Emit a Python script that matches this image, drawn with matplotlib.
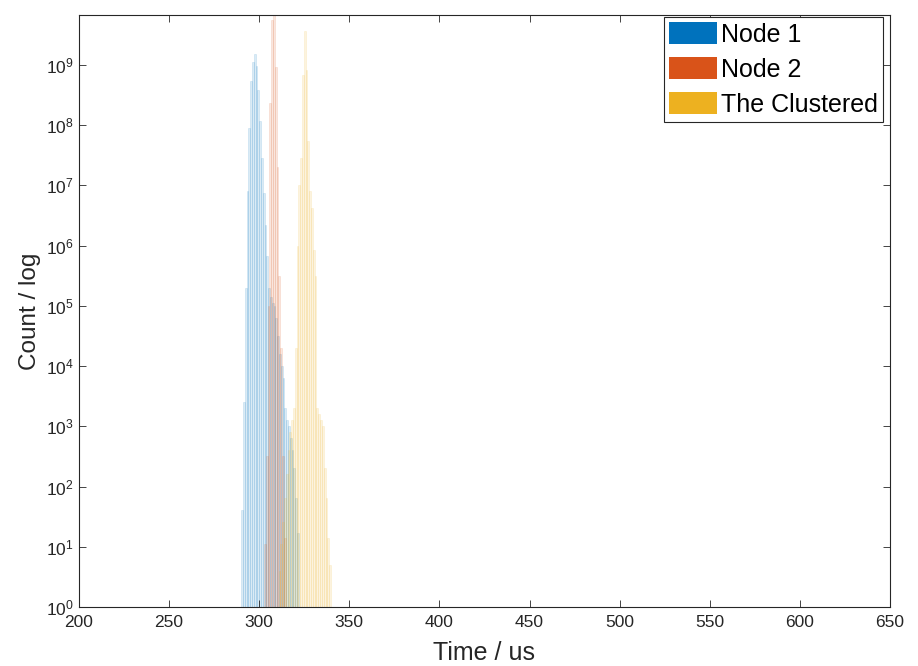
import numpy as np
import matplotlib.pyplot as plt
from matplotlib.colors import to_rgba
from matplotlib.patches import Patch
from matplotlib.ticker import FixedLocator, NullLocator

plt.rcParams['font.family'] = ['Liberation Sans', 'DejaVu Sans']
plt.rcParams['mathtext.default'] = 'regular'

# bin centres (us) and log10(count)
node1_bins = np.arange(290, 322) + 0.5
node1_log = [1.6, 3.4, 5.3, 6.9, 7.96, 8.73, 9.05, 9.18, 8.98, 8.59, 8.07, 7.46,
             6.87, 6.35, 5.82, 5.3, 5.15, 5.05, 5.0, 4.8, 4.5, 4.2, 4.0, 3.8, 3.3,
             3.1, 3.0, 2.8, 2.6, 2.3, 1.8, 1.2]

node2_bins = np.arange(303, 315) + 0.2
node2_log = [1.0, 2.5, 5.0, 8.37, 9.75, 10.0, 8.96, 7.3, 5.5, 4.3, 2.5, 1.1]

clus_bins = np.arange(311, 340) + 0.3
clus_log = [0.5, 1.0, 1.4, 1.8, 2.2, 2.6, 2.9, 3.1, 3.3, 4.3, 6.0, 7.0, 7.46,
            8.84, 9.56, 8.92, 7.73, 6.9, 6.62, 5.93, 5.5, 3.3, 3.2, 3.1, 3.0,
            2.3, 1.8, 1.1, 0.6]

labels = ["Node 1", "Node 2", "The Clustered"]
colors = ["#0072BD", "#D95319", "#EDB120"]
x_ticks = list(range(200, 651, 50))

fig = plt.figure(figsize=(9.18, 6.66), dpi=100)
ax = fig.add_axes([0.086, 0.0886, 0.8835, 0.889])

series = [(node1_bins, node1_log), (node2_bins, node2_log), (clus_bins, clus_log)]
for (b, lg), c in zip(series, colors):
    counts = np.round(10 ** np.array(lg))
    ax.bar(b, counts, width=1.0, bottom=1, facecolor=to_rgba(c, 0.14),
           edgecolor=to_rgba(c, 0.2), linewidth=0.4)

ax.set_yscale("log")
ax.set_xlim(200, 650)
ax.set_ylim(1, 10 ** 9.83)
ax.xaxis.set_major_locator(FixedLocator(x_ticks))
ax.yaxis.set_major_locator(FixedLocator([10.0 ** k for k in range(10)]))
ax.yaxis.set_minor_locator(NullLocator())

for s in ax.spines.values():
    s.set_color("#262626")
    s.set_linewidth(0.8)
ax.tick_params(direction="in", top=True, right=True, length=5, width=0.6,
               color="#262626", labelcolor="#262626", labelsize=12.5)
ax.tick_params(axis="x", pad=6)

ax.set_xlabel("Time / us", fontsize=18, color="#262626", labelpad=8)
ax.set_ylabel("Count / log", fontsize=17.5, color="#262626", labelpad=4)

handles = [Patch(facecolor=c, edgecolor="none") for c in colors]
leg = ax.legend(handles, labels, loc="upper right",
                bbox_to_anchor=(0.9914, 0.9966), borderaxespad=0,
                fontsize=18, fancybox=False, framealpha=1, edgecolor="#262626",
                handlelength=1.9, handleheight=0.95, handletextpad=0.15,
                labelspacing=0.42, borderpad=0.22)
leg.get_frame().set_linewidth(0.8)

fig.savefig("out.png", dpi=100)
